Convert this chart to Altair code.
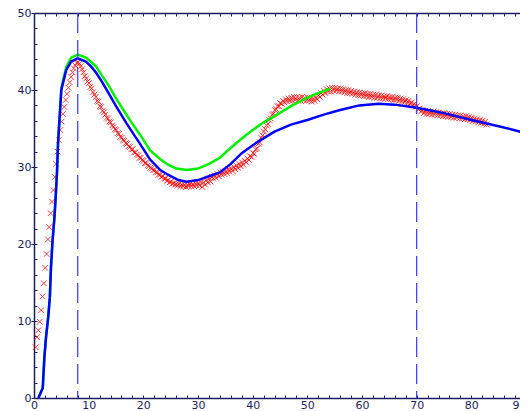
import altair as alt
import pandas as pd

# ---------------- data ----------------
x_ticks_major = [0, 10, 20, 30, 40, 50, 60, 70, 80, 90]
y_ticks_major = [0, 10, 20, 30, 40, 50]
x_ticks_minor = list(range(0, 92, 2))
y_ticks_minor = list(range(0, 52, 2))

blue_x = [0.8, 1.6, 1.9, 2.2, 2.6, 2.9, 3.1, 3.4, 3.7, 3.9, 4.2, 4.4, 5.0, 5.9, 6.8, 8.0,
          9.5, 10.5, 11.4, 12.5, 13.8, 15.0, 16.9, 18.0, 19.4, 21.2, 23.1, 24.5, 26.4, 27.9,
          30.0, 32.0, 34.0, 36.0, 38.0, 41.0, 44.0, 47.0, 50.0, 53.0, 56.0, 59.5, 63.0, 66.0,
          70.0, 75.0, 80.0, 85.0, 90.0]
blue_y = [0.0, 1.3, 5.3, 7.9, 10.5, 13.1, 16.9, 20.5, 23.1, 25.3, 29.2, 33.1, 40.0, 42.6, 43.7, 44.1,
          43.7, 43.0, 42.2, 41.0, 39.4, 37.9, 35.7, 34.5, 33.0, 31.0, 29.6, 29.0, 28.3, 28.1,
          28.3, 28.8, 29.3, 30.4, 31.8, 33.3, 34.6, 35.5, 36.1, 36.8, 37.4, 38.0, 38.2, 38.1,
          37.7, 37.0, 36.1, 35.3, 34.4]

green_x = [0.8, 1.6, 1.9, 2.2, 2.6, 2.9, 3.1, 3.4, 3.7, 3.9, 4.2, 4.4, 5.0, 5.9, 6.8, 8.0,
           9.5, 10.5, 11.4, 12.5, 13.8, 15.0, 16.9, 18.0, 19.4, 21.2, 23.1, 24.5, 26.0, 28.0,
           30.0, 32.0, 34.0, 36.0, 38.0, 40.0, 42.0, 44.0, 47.0, 50.0, 52.0, 54.2]
green_y = [0.0, 1.3, 5.3, 7.9, 10.5, 13.1, 16.9, 20.5, 23.1, 25.3, 29.2, 33.1, 40.3, 43.0, 44.2, 44.6,
           44.2, 43.6, 43.0, 41.8, 40.4, 38.9, 36.8, 35.6, 34.2, 32.2, 31.0, 30.3, 29.8, 29.6,
           29.8, 30.4, 31.2, 32.5, 33.7, 34.8, 35.8, 36.6, 37.9, 39.0, 39.6, 40.2]

# measured points, sampled every 0.25 starting at 0.30
red_x0 = 0.30
red_dx = 0.25
red_y = [
    6.6, 7.9, 8.8, 9.9, 11.4, 13.2, 14.9, 16.9, 18.7, 20.6, 22.2, 24.0, 25.5, 27.0, 28.7, 30.4,
    32.0, 33.5, 34.8, 35.9, 36.9, 37.8, 38.7, 39.5, 40.3, 41.0, 41.7, 42.3, 42.8, 43.2, 43.5, 43.6,
    43.4, 43.1, 42.7, 42.3, 41.8, 41.5, 41.1, 40.9, 40.4, 40.2, 39.7, 39.4, 39.1, 38.6, 38.5, 37.9,
    37.8, 37.3, 37.1, 36.8, 36.4, 36.3, 35.9, 35.8, 35.4, 35.2, 34.9, 34.8, 34.4, 34.3, 33.9, 33.8,
    33.5, 33.4, 33.1, 33.0, 32.7, 32.6, 32.3, 32.3, 31.9, 31.9, 31.6, 31.5, 31.2, 31.2, 30.9, 30.8,
    30.5, 30.5, 30.2, 30.1, 29.9, 29.8, 29.6, 29.6, 29.3, 29.3, 29.0, 29.0, 28.7, 28.8, 28.5, 28.5,
    28.2, 28.3, 28.0, 28.1, 27.8, 27.9, 27.7, 27.8, 27.6, 27.8, 27.5, 27.7, 27.5, 27.7, 27.4, 27.7,
    27.5, 27.8, 27.5, 27.8, 27.5, 27.9, 27.6, 27.9, 27.6, 28.0, 27.4, 28.0, 27.7, 28.3, 28.0, 28.5,
    28.1, 28.7, 28.5, 28.9, 28.6, 29.1, 28.8, 29.3, 29.0, 29.4, 29.1, 29.5, 29.2, 29.7, 29.4, 29.8,
    29.5, 30.0, 29.7, 30.2, 29.9, 30.4, 30.1, 30.6, 30.3, 30.8, 30.6, 31.1, 30.9, 31.4, 31.3, 31.8,
    31.7, 32.3, 32.4, 33.0, 33.2, 33.8, 34.1, 34.6, 34.9, 35.4, 35.6, 36.1, 36.3, 36.8, 36.9, 37.4,
    37.5, 37.9, 37.9, 38.3, 38.2, 38.6, 38.4, 38.8, 38.5, 38.9, 38.6, 39.0, 38.6, 39.1, 38.7, 39.1,
    38.6, 39.0, 38.6, 39.1, 38.7, 39.0, 38.6, 39.0, 38.6, 38.9, 38.5, 38.9, 38.6, 39.0, 38.8, 39.3,
    39.1, 39.6, 39.4, 39.9, 39.6, 40.1, 39.8, 40.2, 39.8, 40.3, 39.9, 40.3, 39.9, 40.2, 39.8, 40.2,
    39.8, 40.1, 39.7, 40.0, 39.6, 40.0, 39.6, 39.9, 39.5, 39.8, 39.4, 39.7, 39.3, 39.7, 39.3, 39.6,
    39.2, 39.6, 39.2, 39.5, 39.1, 39.5, 39.1, 39.4, 39.0, 39.4, 39.0, 39.3, 38.9, 39.3, 38.9, 39.2,
    38.9, 39.2, 38.8, 39.1, 38.8, 39.1, 38.7, 39.0, 38.7, 39.0, 38.6, 38.9, 38.5, 38.8, 38.4, 38.7,
    38.3, 38.6, 38.2, 38.4, 38.0, 38.2, 37.8, 37.9, 37.5, 37.6, 37.2, 37.4, 37.0, 37.3, 36.9, 37.3,
    36.9, 37.2, 36.8, 37.2, 36.8, 37.1, 36.7, 37.1, 36.7, 37.0, 36.6, 37.0, 36.6, 36.9, 36.5, 36.9,
    36.5, 36.8, 36.4, 36.8, 36.4, 36.7, 36.3, 36.7, 36.3, 36.6, 36.2, 36.6, 36.2, 36.5, 36.1, 36.4,
    36.0, 36.3, 35.9, 36.2, 35.8, 36.1, 35.7, 36.0, 35.6, 35.9, 35.5,
]
red_x = [round(red_x0 + red_dx * i, 2) for i in range(len(red_y))]

marker_x = [8.0, 70.0]

# ---------------- style ----------------
W, H = 486, 385
XR = 492  # pixel span of 0..90 (right end runs past the visible edge)
AXC = "#1e1e5e"
FONT = "DejaVu Sans"

xs = alt.Scale(domain=[0, 90], range=[0, XR], nice=False, zero=False)
ys = alt.Scale(domain=[0, 50], nice=False, zero=False)

df_red = pd.DataFrame({"x": red_x, "y": red_y})
df_blue = pd.DataFrame({"x": blue_x, "y": blue_y})
df_green = pd.DataFrame({"x": green_x, "y": green_y})
df_mark = pd.DataFrame({"x": marker_x})

XSHAPE = "M-1,-1L1,1M-1,1L1,-1"

red = alt.Chart(df_red).mark_point(
    shape=XSHAPE, filled=False, color="#ff0000", size=32, strokeWidth=1, opacity=0.75
).encode(
    x=alt.X("x:Q", scale=xs, axis=alt.Axis(
        orient="bottom", values=x_ticks_major, ticks=False, grid=False,
        domainColor=AXC, domainWidth=1.5, labelColor=AXC, labelFont=FONT, labelFontSize=11,
        labelPadding=1, title=None, labelFlush=False,
        labelAlign=alt.expr("datum.value >= 90 ? 'right' : 'center'"))),
    y=alt.Y("y:Q", scale=ys, axis=alt.Axis(
        orient="left", values=y_ticks_major, tickSize=3, tickColor=AXC, grid=False,
        domainColor=AXC, domainWidth=1.5, labelColor=AXC, labelFont=FONT, labelFontSize=11,
        labelPadding=0, title=None, labelFlush=False)),
)

green = alt.Chart(df_green).mark_line(color="#00ee00", strokeWidth=2.5).encode(
    x=alt.X("x:Q", scale=xs, axis=alt.Axis(
        orient="bottom", offset=-H, values=x_ticks_minor, tickSize=3, tickColor=AXC,
        labels=False, grid=False, domainColor=AXC, domainWidth=1.5, title=None)),
    y=alt.Y("y:Q", scale=ys, axis=None),
)

blue = alt.Chart(df_blue).mark_line(color="#0000ff", strokeWidth=2.5).encode(
    x=alt.X("x:Q", scale=xs, axis=alt.Axis(
        orient="top", offset=-H, values=x_ticks_minor, tickSize=3, tickColor=AXC,
        labels=False, grid=False, domain=False, title=None)),
    y=alt.Y("y:Q", scale=ys, axis=alt.Axis(
        orient="right", offset=-W, values=y_ticks_minor, tickSize=3, tickColor=AXC,
        labels=False, grid=False, domain=False, title=None)),
)

rules = alt.Chart(df_mark).mark_rule(color="#3a3aff", strokeWidth=1.2, strokeDash=[20, 7]).encode(
    x=alt.X("x:Q", scale=xs, axis=None),
)

chart = alt.layer(red, green, blue, rules).resolve_axis(
    x="independent", y="independent"
).properties(
    width=W, height=H,
    autosize=alt.AutoSizeParams(type="none"),
    padding={"left": 26, "top": 5, "right": 0, "bottom": 12},
).configure_view(stroke=None)

chart.save("out.html", embed_options={"renderer": "svg", "actions": False})
